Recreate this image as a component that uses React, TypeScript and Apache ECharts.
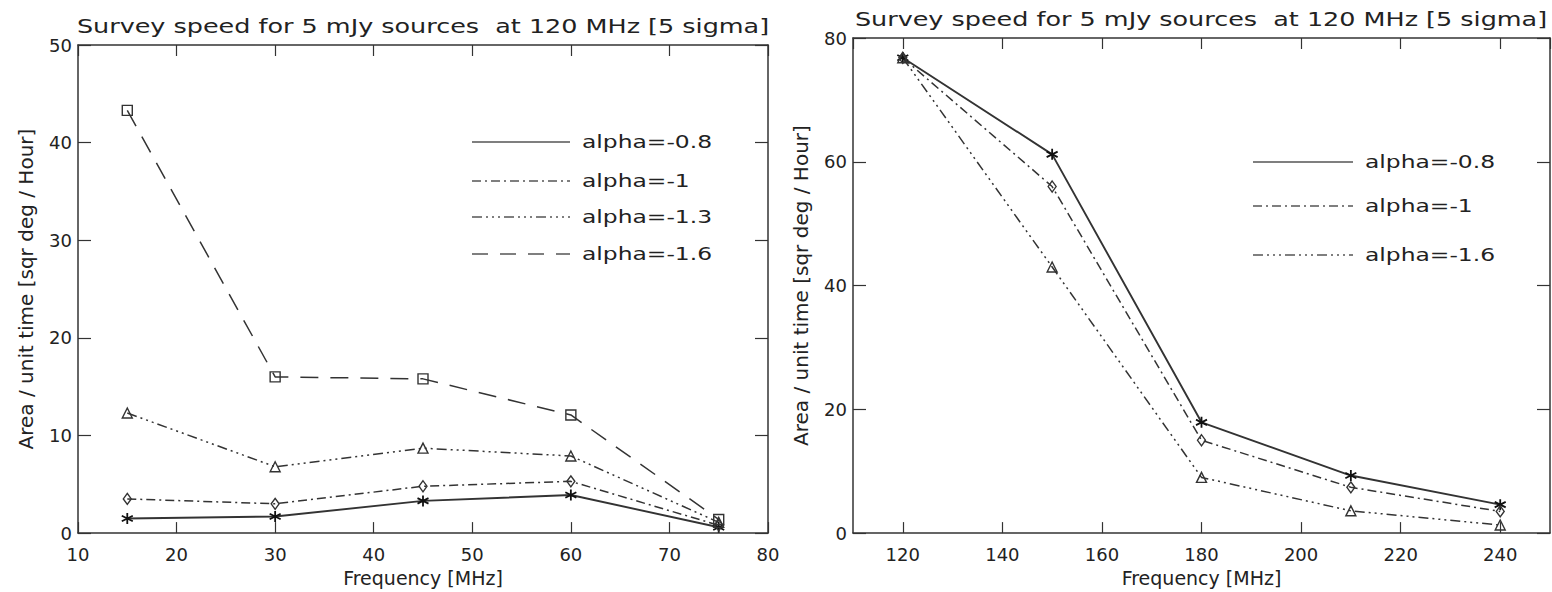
import React, { useEffect, useRef } from "react";
import * as echarts from "echarts";

const leftFreq = [15, 30, 45, 60, 75];
const leftAlpha08 = [1.5, 1.7, 3.3, 3.9, 0.6];
const leftAlpha10 = [3.5, 3.0, 4.8, 5.3, 0.8];
const leftAlpha13 = [12.3, 6.8, 8.7, 7.9, 1.1];
const leftAlpha16 = [43.3, 16.0, 15.8, 12.1, 1.4];

const rightFreq = [120, 150, 180, 210, 240];
const rightAlpha08 = [76.8, 61.2, 17.9, 9.3, 4.6];
const rightAlpha10 = [76.8, 56.0, 15.0, 7.4, 3.5];
const rightAlpha16 = [76.8, 43.0, 9.0, 3.6, 1.3];

const leftLegend = ["alpha=-0.8", "alpha=-1", "alpha=-1.3", "alpha=-1.6"];
const rightLegend = ["alpha=-0.8", "alpha=-1", "alpha=-1.6"];

const TITLE = "Survey speed for 5 mJy sources  at 120 MHz [5 sigma]";
const XNAME = "Frequency [MHz]";
const YNAME = "Area / unit time [sqr deg / Hour]";

const FONT = "DejaVu Sans";
const INK = "#222";
const LINE = "#333";

const DASH_DOT = [9, 4, 2, 4];
const DASH_3DOT = [10, 4, 2, 4, 2, 4, 2, 4];
const LONG_DASH = [18, 12];

const STAR = "path://M5 0 L5 10 M0.67 2.5 L9.33 7.5 M0.67 7.5 L9.33 2.5";

const pairs = (xs: number[], ys: number[]) => xs.map((x, i) => [x, ys[i]]);

function App() {
  const ref = useRef<HTMLDivElement>(null);
  useEffect(() => {
    if (!ref.current) return;
    const chart = echarts.init(ref.current, null, { renderer: "svg" });

    const axisLine = { show: true, onZero: false, lineStyle: { color: LINE, width: 1.5 } };
    const labelStyle = { color: INK, fontSize: 18, fontFamily: FONT };

    const xMain = (grid: number, extra: any) => ({
      type: "value",
      gridIndex: grid,
      position: "bottom",
      axisLine,
      axisTick: { show: true, inside: true, length: 11, lineStyle: { color: LINE, width: 1.2 } },
      axisLabel: { ...labelStyle, margin: 12 },
      splitLine: { show: false },
      name: XNAME,
      nameLocation: "middle",
      nameGap: 33,
      nameTextStyle: { color: INK, fontSize: 19, fontFamily: FONT },
      ...extra,
    });
    const xTop = (grid: number, extra: any) => ({
      type: "value",
      gridIndex: grid,
      position: "top",
      axisLine,
      axisTick: { show: true, inside: true, length: 11, lineStyle: { color: LINE, width: 1.2 } },
      axisLabel: { show: false },
      splitLine: { show: false },
      ...extra,
    });
    const yMain = (grid: number, extra: any) => ({
      type: "value",
      gridIndex: grid,
      position: "left",
      axisLine,
      axisTick: { show: true, inside: true, length: 13, lineStyle: { color: LINE, width: 1.2 } },
      axisLabel: { ...labelStyle, margin: 6 },
      splitLine: { show: false },
      name: YNAME,
      nameLocation: "middle",
      nameGap: 42,
      nameTextStyle: { color: INK, fontSize: 20, fontFamily: FONT },
      ...extra,
    });
    const yRight = (grid: number, extra: any) => ({
      type: "value",
      gridIndex: grid,
      position: "right",
      axisLine,
      axisTick: { show: true, inside: true, length: 13, lineStyle: { color: LINE, width: 1.2 } },
      axisLabel: { show: false },
      splitLine: { show: false },
      ...extra,
    });

    const openStyle = { color: "transparent", borderColor: LINE, borderWidth: 1.4 };
    const starStyle = { color: LINE, borderColor: "#111", borderWidth: 1.8 };

    const mk = (
      name: string,
      xi: number,
      data: number[][],
      dash: any,
      symbol: string,
      symbolSize: any,
      itemStyle: any,
      width = 1.5
    ) => ({
      type: "line",
      name,
      xAxisIndex: xi,
      yAxisIndex: xi,
      data,
      symbol,
      symbolSize,
      showSymbol: true,
      itemStyle,
      lineStyle: { color: LINE, width, type: dash },
      z: 3,
    });

    const legendItems = (
      labels: string[],
      dashes: any[],
      x1: number,
      x2: number,
      tx: number,
      ys: number[]
    ) => {
      const out: any[] = [];
      labels.forEach((lab, i) => {
        out.push({
          type: "line",
          shape: { x1, y1: ys[i], x2, y2: ys[i] },
          style: { stroke: "#555", lineWidth: 1.6, lineDash: dashes[i] },
        });
        out.push({
          type: "text",
          x: tx,
          y: ys[i],
          scaleX: 1.3,
          style: {
            text: lab,
            fontSize: 18,
            fontFamily: FONT,
            fill: INK,
            align: "left",
            verticalAlign: "middle",
          },
        });
      });
      return out;
    };

    const option: any = {
      animation: false,
      backgroundColor: "#fff",
      grid: [
        { left: 78, top: 45, width: 690, height: 489 },
        { left: 853, top: 38, width: 697, height: 496 },
      ],
      xAxis: [
        xMain(0, { min: 10, max: 80, interval: 10 }),
        xMain(1, {
          min: 110,
          max: 250,
          splitNumber: 7,
          axisLabel: { ...labelStyle, margin: 12, showMinLabel: false, showMaxLabel: false },
        }),
        xTop(0, { min: 10, max: 80, interval: 10 }),
        xTop(1, { min: 110, max: 250, splitNumber: 7 }),
      ],
      yAxis: [
        yMain(0, { min: 0, max: 50, interval: 10 }),
        yMain(1, { min: 0, max: 80, interval: 20 }),
        yRight(0, { min: 0, max: 50, interval: 10 }),
        yRight(1, { min: 0, max: 80, interval: 20 }),
      ],
      series: [
        mk("alpha=-0.8", 0, pairs(leftFreq, leftAlpha08), "solid", STAR, 11, starStyle, 1.9),
        mk("alpha=-1", 0, pairs(leftFreq, leftAlpha10), DASH_DOT, "diamond", [8, 11], openStyle),
        mk("alpha=-1.3", 0, pairs(leftFreq, leftAlpha13), DASH_3DOT, "triangle", 10, openStyle),
        mk("alpha=-1.6", 0, pairs(leftFreq, leftAlpha16), LONG_DASH, "rect", 10, openStyle),
        mk("alpha=-0.8 ", 1, pairs(rightFreq, rightAlpha08), "solid", STAR, 11, starStyle, 1.9),
        mk("alpha=-1 ", 1, pairs(rightFreq, rightAlpha10), DASH_DOT, "diamond", [8, 11], openStyle),
        mk("alpha=-1.6 ", 1, pairs(rightFreq, rightAlpha16), DASH_3DOT, "triangle", 10, openStyle),
      ],
      graphic: [
        {
          type: "text",
          x: 423,
          y: 26,
          scaleX: 1.34,
          style: {
            text: TITLE,
            fontSize: 19,
            fontFamily: FONT,
            fill: INK,
            align: "center",
            verticalAlign: "middle",
          },
        },
        {
          type: "text",
          x: 1201,
          y: 19,
          scaleX: 1.34,
          style: {
            text: TITLE,
            fontSize: 19,
            fontFamily: FONT,
            fill: INK,
            align: "center",
            verticalAlign: "middle",
          },
        },
        ...legendItems(leftLegend, [[], DASH_DOT, DASH_3DOT, [16, 12]], 472, 570, 582, [142, 181, 217, 254]),
        ...legendItems(rightLegend, [[], DASH_DOT, DASH_3DOT], 1253, 1353, 1365, [162, 206, 255]),
      ],
    };

    chart.setOption(option);
    return () => chart.dispose();
  }, []);

  return (
    <div
      ref={ref}
      style={{ position: "absolute", left: 0, top: 0, width: 1552, height: 592, background: "#fff" }}
    />
  );
}

export default App;
